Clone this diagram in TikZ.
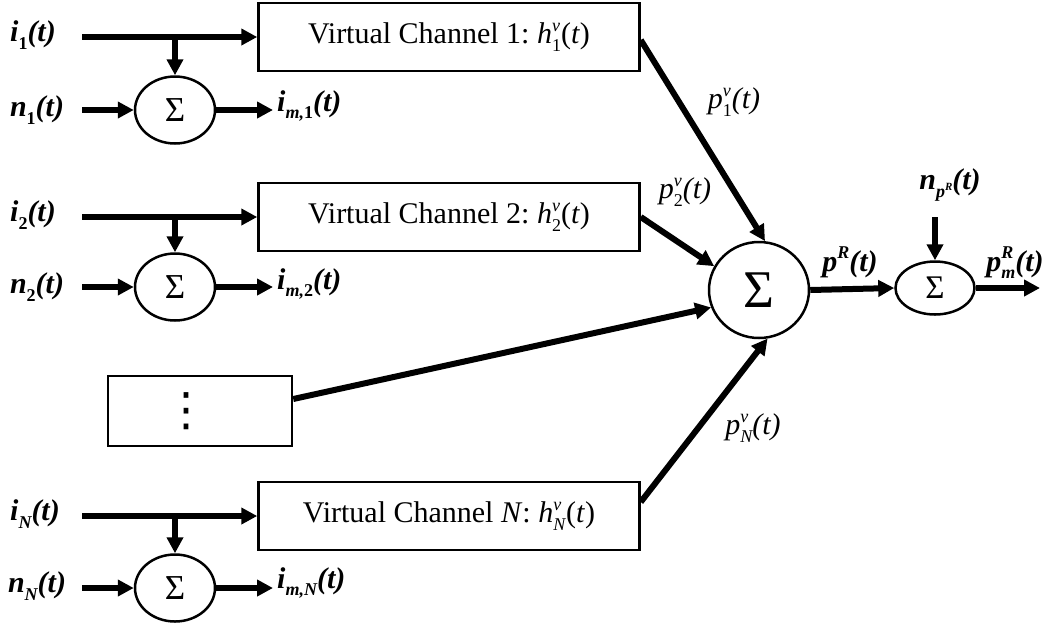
\documentclass[tikz,border=0pt]{standalone}
\usepackage{fontspec}
\setmainfont{Liberation Serif}
\newfontfamily\dejavu{DejaVu Sans}
\usetikzlibrary{shapes.geometric,arrows.meta}
\newcommand\sps[1]{\raisebox{0.42em}{\fontsize{18}{18}\selectfont #1}}
\newcommand\sbs[1]{\raisebox{-0.25em}{\fontsize{18}{18}\selectfont #1}}
\newcommand\supsub[3]{#1\rlap{\sps{#2}}\sbs{#3}}
\begin{document}
\begin{tikzpicture}[x=1pt,y=-1pt,
  box/.style={draw,line width=2.5pt,minimum width=381pt,minimum height=68pt,inner sep=0pt,font=\fontsize{30}{36}\selectfont},
  sumnode/.style={draw,ellipse,line width=2.5pt,inner sep=0pt,minimum width=80pt,minimum height=67pt,font=\fontsize{35}{40}\selectfont},
  lbl/.style={inner sep=0pt,font=\fontsize{30}{36}\selectfont\bfseries\itshape},
  plbl/.style={inner sep=0pt,font=\fontsize{30}{36}\selectfont\itshape},
  sig/.style={line width=6pt,-{Triangle[length=16pt,width=16pt]}},
]
\fill[white] (0,0) rectangle (1055,633);
\useasboundingbox (0,0) rectangle (1055,633);

% boxes
\node[box] (vc1) at (449,37) {Virtual Channel 1:\ \supsub{\textit{h}}{\textit{v}}{1}(\textit{t})};
\node[box] (vc2) at (449,217) {Virtual Channel 2:\ \supsub{\textit{h}}{\textit{v}}{2}(\textit{t})};
\node[box] (vcN) at (449,516) {Virtual Channel \textit{N}:\ \supsub{\textit{h}}{\textit{v}}{\textit{N}}(\textit{t})};
\node[box,minimum width=184pt,minimum height=70pt,font=\fontsize{46}{48}\selectfont\dejavu] (dots) at (200,411) {\hspace*{-28pt}⋮};

% summing nodes
\node[sumnode] (s1) at (175,110) {Σ};
\node[sumnode] (s2) at (175,287) {Σ};
\node[sumnode] (sN) at (175,588) {Σ};
\node[sumnode,minimum width=100pt,minimum height=96pt,font=\fontsize{53}{60}\selectfont] (S) at (759,290) {Σ};
\node[sumnode,minimum width=79pt,minimum height=53pt,font=\fontsize{33}{40}\selectfont] (R) at (935,288) {Σ};

% left labels
\node[lbl] (li1) at (33,35) {\textit{i}\sbs{\textup{1}}(\textit{t})};
\node[lbl] (ln1) at (37,110) {\textit{n}\sbs{\textup{1}}(\textit{t})};
\node[lbl] (li2) at (33,215) {\textit{i}\sbs{\textup{2}}(\textit{t})};
\node[lbl] (ln2) at (37,287) {\textit{n}\sbs{\textup{2}}(\textit{t})};
\node[lbl] (liN) at (35,514) {\textit{i}\sbs{\textit{N}}(\textit{t})};
\node[lbl] (lnN) at (37,586) {\textit{n}\sbs{\textit{N}}(\textit{t})};
\node[lbl,anchor=west] (lm1) at (277,106) {\textit{i}\sbs{\textit{m},\textup{1}}(\textit{t})};
\node[lbl,anchor=west] (lm2) at (277,284) {\textit{i}\sbs{\textit{m},\textup{2}}(\textit{t})};
\node[lbl,anchor=west] (lmN) at (277,583) {\textit{i}\sbs{\textit{m},\textit{N}}(\textit{t})};

% coordinates
\coordinate (i1s) at (82,37);
\coordinate (n1s) at (82,110);
\coordinate (i2s) at (82,217);
\coordinate (n2s) at (82,287);
\coordinate (iNs) at (82,516);
\coordinate (nNs) at (82,588);
\coordinate (m1e) at (273,110);
\coordinate (m2e) at (273,287);
\coordinate (mNe) at (273,588);

% input rows
\draw[sig] (i1s) -- (vc1.west);
\draw[sig] (s1 |- vc1.west) -- (s1.north);
\draw[sig] (n1s) -- (s1.west);
\draw[sig] (s1.east) -- (m1e);

\draw[sig] (i2s) -- (vc2.west);
\draw[sig] (s2 |- vc2.west) -- (s2.north);
\draw[sig] (n2s) -- (s2.west);
\draw[sig] (s2.east) -- (m2e);

\draw[sig] (iNs) -- (vcN.west);
\draw[sig] (sN |- vcN.west) -- (sN.north);
\draw[sig] (nNs) -- (sN.west);
\draw[sig] (sN.east) -- (mNe);

% to big sum
\draw[sig] ([yshift=-3pt]vc1.east) -- (S.83);
\draw[sig] (vc2.east) -- (S.152);
\draw[sig] ([yshift=12pt]dots.east) -- (S.200);
\draw[sig] ([yshift=14pt]vcN.east) -- (S.280);

\node[plbl] (p1) at (734,102) {\supsub{\textit{p}}{\textit{v}}{\textup{1}}(\textit{t})};
\node[plbl] (p2) at (685,192) {\supsub{\textit{p}}{\textit{v}}{\textup{2}}(\textit{t})};
\node[plbl] (pN) at (753,428) {\supsub{\textit{p}}{\textit{v}}{\textit{N}}(\textit{t})};

% output part
\coordinate (nps) at (935,217);
\coordinate (oute) at (1040,288);
\draw[sig] (S.east) -- (R.west);
\draw[sig] (nps) -- (R.north);
\draw[sig] (R.east) -- (oute);

\node[lbl] (pR) at (850,262) {\textit{p}\sps{\textit{R}}(\textit{t})};
\node[lbl] (npR) at (950,185) {\textit{n}\sbs{\textit{p}\raisebox{0.4em}{\fontsize{11}{11}\selectfont\textit{R}}}(\textit{t})};
\node[lbl] (pmR) at (1015,263) {\supsub{\textit{p}}{\textit{R}}{\textit{m}}(\textit{t})};
\end{tikzpicture}
\end{document}
